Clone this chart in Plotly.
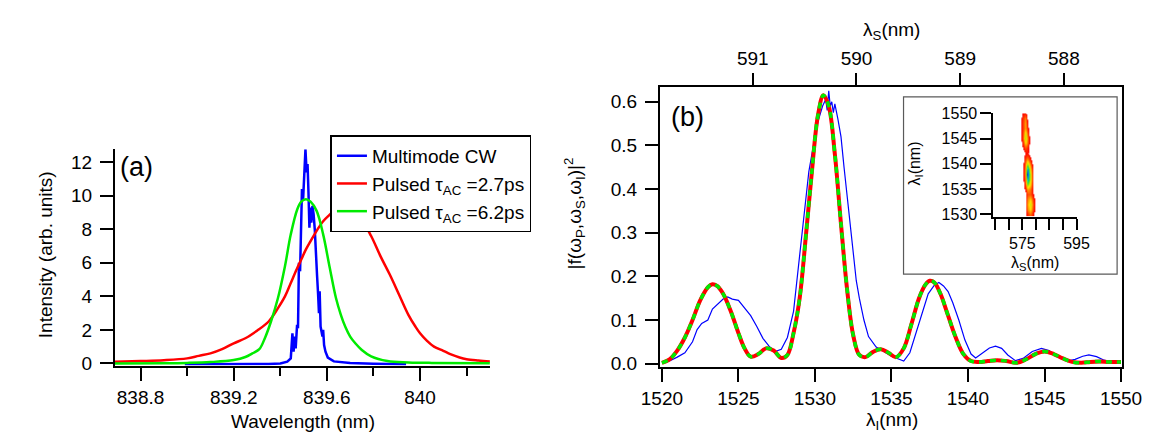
import plotly.graph_objects as go

W, H = 1161, 433
FONT = "Liberation Sans, Arial, Helvetica, sans-serif"

# ---------------- Panel (a) data ----------------
cw_wl = [838.99, 839.2, 839.35, 839.40, 839.43, 839.445, 839.452, 839.457, 839.462, 839.466,
         839.472, 839.476, 839.48, 839.485, 839.49, 839.493, 839.498, 839.503, 839.508, 839.513,
         839.517, 839.521, 839.525, 839.529, 839.533, 839.538, 839.543, 839.548, 839.553, 839.558,
         839.562, 839.566, 839.569, 839.573, 839.577, 839.581, 839.584, 839.588, 839.594, 839.604,
         839.63, 839.7, 839.8, 839.94]
cw_int = [-0.05, -0.05, -0.03, 0.0, 0.1, 0.3, 1.8, 0.7, 1.6, 0.9,
          2.3, 2.1, 6.0, 5.5, 7.8, 10.4, 9.8, 11.7, 12.77, 11.4,
          11.9, 10.2, 8.1, 9.3, 8.4, 9.4, 8.9, 8.0, 6.2, 5.2,
          4.2, 3.0, 4.3, 2.2, 1.9, 1.6, 2.0, 1.1, 0.7, 0.35,
          0.12, 0.02, -0.02, -0.05]

p27_wl = [838.69, 838.8, 838.9, 839.0, 839.05, 839.1, 839.15, 839.2, 839.25, 839.3,
          839.35, 839.39, 839.42, 839.445, 839.47, 839.49, 839.51, 839.53, 839.56, 839.585,
          839.61, 839.63, 839.65, 839.67, 839.69, 839.72, 839.75, 839.79, 839.83, 839.87,
          839.91, 839.95, 839.98, 840.0, 840.03, 840.06, 840.1, 840.13, 840.17, 840.2,
          840.25, 840.3]
p27_int = [0.10, 0.14, 0.19, 0.30, 0.45, 0.6, 0.85, 1.2, 1.5, 1.95,
           2.5, 3.3, 4.0, 4.8, 5.6, 6.2, 6.8, 7.3, 8.0, 8.5,
           8.85, 9.1, 9.2, 9.15, 9.05, 8.85, 8.55, 7.6, 6.4, 5.3,
           4.1, 2.9, 2.2, 1.8, 1.35, 1.0, 0.75, 0.55, 0.35, 0.25,
           0.17, 0.11]

p62_wl = [838.69, 838.9, 839.0, 839.1, 839.2, 839.25, 839.28, 839.31, 839.335, 839.36,
          839.39, 839.42, 839.445, 839.473, 839.49, 839.51, 839.53, 839.556, 839.584, 839.611,
          839.639, 839.66, 839.68, 839.70, 839.722, 839.75, 839.79, 839.86, 839.95, 840.05,
          840.3]
p62_int = [0.0, 0.01, 0.03, 0.08, 0.2, 0.38, 0.6, 0.85, 1.55, 2.5,
           3.9, 5.8, 7.7, 9.2, 9.65, 9.8, 9.65, 9.1, 7.7, 5.8,
           3.9, 2.9, 2.15, 1.6, 1.2, 0.8, 0.42, 0.14, 0.06, 0.03,
           0.01]

a_xticks = [838.8, 839.2, 839.6, 840]
a_xticktext = ["838.8", "839.2", "839.6", "840"]
a_xminor = [839.0, 839.4, 839.8, 840.2]
a_yticks = [0, 2, 4, 6, 8, 10, 12]

# ---------------- Panel (b) data ----------------
exp_wl = [1520.0, 1520.5, 1521.0, 1521.5, 1522.0, 1522.3, 1522.6, 1523.0, 1523.3, 1523.6,
          1524.0, 1524.3, 1524.6, 1525.0, 1525.4, 1525.8, 1526.2, 1526.6, 1527.0, 1527.4,
          1527.8, 1528.2, 1528.6, 1529.0, 1529.3, 1529.6, 1529.9, 1530.2, 1530.5, 1530.7,
          1530.8, 1530.9, 1531.0, 1531.1, 1531.2, 1531.3, 1531.5, 1531.7, 1531.9, 1532.1,
          1532.3, 1532.5, 1532.7, 1532.9, 1533.2, 1533.5, 1534.0, 1534.5, 1535.0, 1535.5,
          1535.8, 1536.2, 1536.6, 1537.0, 1537.4, 1537.8, 1538.1, 1538.4, 1538.7, 1539.0,
          1539.4, 1539.8, 1540.2, 1540.5, 1541.0, 1541.4, 1541.8, 1542.2, 1542.6, 1543.1,
          1543.6, 1544.2, 1544.8, 1545.3, 1545.9, 1546.5, 1547.0, 1547.5, 1547.9, 1548.4,
          1548.9, 1549.3, 1550.0]
exp_val = [0.003, 0.006, 0.015, 0.025, 0.05, 0.078, 0.092, 0.10, 0.125, 0.135,
           0.148, 0.153, 0.148, 0.145, 0.128, 0.11, 0.085, 0.058, 0.04, 0.028,
           0.033, 0.06, 0.12, 0.25, 0.34, 0.44, 0.50, 0.555, 0.59, 0.605,
           0.58, 0.625, 0.59, 0.60, 0.575, 0.595, 0.56, 0.52, 0.45, 0.385,
           0.31, 0.25, 0.19, 0.15, 0.10, 0.062, 0.038, 0.028, 0.017, 0.01,
           0.006, 0.025, 0.07, 0.12, 0.16, 0.18, 0.186, 0.178, 0.165, 0.14,
           0.10, 0.054, 0.022, 0.013, 0.025, 0.036, 0.04, 0.035, 0.02, 0.007,
           0.012, 0.028, 0.035, 0.03, 0.015, 0.006, 0.01, 0.017, 0.02, 0.016,
           0.008, 0.004, 0.006]

th_wl = [1520.0, 1520.5, 1521.0, 1521.5, 1522.0, 1522.5, 1523.0, 1523.3, 1523.6, 1524.0,
         1524.5, 1525.0, 1525.4, 1525.8, 1526.3, 1526.8, 1527.3, 1527.8, 1528.2, 1528.6,
         1529.0, 1529.4, 1529.8, 1530.2, 1530.55, 1530.9, 1531.3, 1531.7, 1532.1, 1532.5,
         1532.9, 1533.3, 1533.8, 1534.3, 1534.8, 1535.3, 1535.8, 1536.3, 1536.8, 1537.2,
         1537.5, 1537.8, 1538.2, 1538.7, 1539.2, 1539.7, 1540.2, 1540.7, 1541.3, 1541.9,
         1542.5, 1543.2, 1543.8, 1544.4, 1545.0, 1545.6, 1546.2, 1546.8, 1547.4, 1548.0,
         1548.6, 1549.2, 1550.0]
th_val = [0.002, 0.01, 0.03, 0.06, 0.10, 0.145, 0.175, 0.182, 0.178, 0.16,
          0.12, 0.07, 0.035, 0.016, 0.022, 0.035, 0.03, 0.013, 0.02, 0.07,
          0.15, 0.29, 0.44, 0.57, 0.615, 0.59, 0.48, 0.32, 0.17, 0.065,
          0.02, 0.015, 0.027, 0.033, 0.025, 0.015, 0.035, 0.09, 0.15, 0.18,
          0.19, 0.186, 0.16, 0.11, 0.06, 0.022, 0.006, 0.004, 0.006, 0.008,
          0.006, 0.002, 0.01, 0.022, 0.028, 0.022, 0.012, 0.004, 0.002, 0.004,
          0.005, 0.004, 0.004]

b_xticks = [1520, 1525, 1530, 1535, 1540, 1545, 1550]
b_yticks = [0.0, 0.1, 0.2, 0.3, 0.4, 0.5, 0.6]
b_yticktext = ["0.0", "0.1", "0.2", "0.3", "0.4", "0.5", "0.6"]
top_ticks = [591, 590, 589, 588]

# ---------------- Inset (joint spectral intensity) ----------------
jsa_ls = [574, 575, 576, 577, 578, 579, 580, 581]
jsa_li = [1530, 1531, 1532, 1533, 1534, 1535, 1536, 1537, 1538, 1539, 1540,
          1541, 1542, 1543, 1544, 1545, 1546, 1547, 1548, 1549, 1550]
jsa_z = [
    [0, 0, 0.05, 0.25, 0.35, 0.18, 0, 0],      # 1530
    [0, 0, 0.08, 0.38, 0.50, 0.25, 0.02, 0],   # 1531
    [0, 0, 0.10, 0.42, 0.58, 0.28, 0.03, 0],   # 1532
    [0, 0, 0.10, 0.38, 0.48, 0.24, 0.02, 0],   # 1533
    [0, 0, 0.10, 0.30, 0.32, 0.15, 0, 0],      # 1534
    [0, 0.02, 0.20, 0.42, 0.35, 0.12, 0, 0],   # 1535
    [0, 0.04, 0.30, 0.68, 0.48, 0.12, 0, 0],   # 1536
    [0, 0.05, 0.38, 0.88, 0.55, 0.14, 0, 0],   # 1537
    [0, 0.06, 0.42, 1.00, 0.55, 0.12, 0, 0],   # 1538
    [0, 0.06, 0.42, 0.90, 0.48, 0.10, 0, 0],   # 1539
    [0, 0.05, 0.38, 0.65, 0.35, 0.06, 0, 0],   # 1540
    [0, 0.04, 0.30, 0.40, 0.20, 0.02, 0, 0],   # 1541
    [0, 0.03, 0.16, 0.18, 0.08, 0, 0, 0],      # 1542
    [0, 0.12, 0.30, 0.22, 0.04, 0, 0, 0],      # 1543
    [0, 0.20, 0.48, 0.35, 0.06, 0, 0, 0],      # 1544
    [0, 0.25, 0.62, 0.38, 0.05, 0, 0, 0],      # 1545
    [0, 0.25, 0.55, 0.32, 0.04, 0, 0, 0],      # 1546
    [0, 0.24, 0.42, 0.22, 0.02, 0, 0, 0],      # 1547
    [0, 0.25, 0.42, 0.18, 0, 0, 0, 0],         # 1548
    [0, 0.24, 0.38, 0.14, 0, 0, 0, 0],         # 1549
    [0, 0.15, 0.22, 0.06, 0, 0, 0, 0],         # 1550
]
inset_xticks = [565, 570, 575, 580, 585, 590, 595]
inset_xticktext = ["", "", "575", "", "", "", "595"]
inset_yticks = [1530, 1535, 1540, 1545, 1550]

# ---------------- helpers (layout positions, pixels -> paper) ----------------
def px(p):
    return p / W

def py(p):
    return 1 - p / H

BLUE = "rgb(0,0,255)"
RED = "rgb(255,0,0)"
GREEN = "rgb(0,235,0)"

fig = go.Figure()

# Panel (a)
fig.add_trace(go.Scatter(x=cw_wl, y=cw_int, mode="lines", name="Multimode CW",
                         line=dict(color=BLUE, width=2.5), xaxis="x", yaxis="y"))
fig.add_trace(go.Scatter(x=p27_wl, y=p27_int, mode="lines", line_shape="spline",
                         name="Pulsed τ<sub>AC</sub> =2.7ps",
                         line=dict(color=RED, width=2.5), xaxis="x", yaxis="y"))
fig.add_trace(go.Scatter(x=p62_wl, y=p62_int, mode="lines", line_shape="spline",
                         name="Pulsed τ<sub>AC</sub> =6.2ps",
                         line=dict(color=GREEN, width=2.5), xaxis="x", yaxis="y"))

# Panel (b)
fig.add_trace(go.Scatter(x=exp_wl, y=exp_val, mode="lines", showlegend=False,
                         line=dict(color=BLUE, width=1.2), xaxis="x2", yaxis="y2"))
fig.add_trace(go.Scatter(x=th_wl, y=th_val, mode="lines", line_shape="spline", showlegend=False,
                         line=dict(color=RED, width=4), xaxis="x2", yaxis="y2"))
fig.add_trace(go.Scatter(x=th_wl, y=th_val, mode="lines", line_shape="spline", showlegend=False,
                         line=dict(color=GREEN, width=3.5, dash="6px,5px"), xaxis="x2", yaxis="y2"))
# invisible trace to anchor top axis
fig.add_trace(go.Scatter(x=top_ticks, y=[None] * len(top_ticks), mode="markers", showlegend=False,
                         hoverinfo="skip", xaxis="x3", yaxis="y2"))

# Inset
fig.add_trace(go.Heatmap(x=jsa_ls, y=jsa_li, z=jsa_z, zmin=0, zmax=1, zsmooth="best",
                         showscale=False, xaxis="x4", yaxis="y4",
                         colorscale=[[0, "rgba(255,255,255,0)"], [0.14, "rgba(255,255,255,0)"],
                                     [0.15, "rgb(255,0,0)"], [0.28, "rgb(255,60,0)"],
                                     [0.40, "rgb(255,150,0)"], [0.52, "rgb(255,235,0)"],
                                     [0.63, "rgb(160,230,0)"], [0.74, "rgb(0,220,80)"],
                                     [0.86, "rgb(0,200,235)"], [1, "rgb(0,0,255)"]]))

tickfont = dict(family=FONT, size=19, color="black")
axcommon = dict(showgrid=False, zeroline=False, showline=True, linecolor="black", linewidth=2,
                ticks="outside", tickcolor="black", tickwidth=2, tickfont=tickfont)

fig.update_layout(
    width=W, height=H, margin=dict(l=0, r=0, t=0, b=0),
    paper_bgcolor="white", plot_bgcolor="white",
    font=dict(family=FONT, size=19, color="black"),
    showlegend=True,
    legend=dict(x=px(314), y=py(124), xanchor="left", yanchor="top",
                bordercolor="black", borderwidth=1.5, bgcolor="white",
                font=dict(family=FONT, size=19), itemwidth=30,
                tracegroupgap=0, traceorder="normal"),
    xaxis=dict(domain=[px(91), px(479)], range=[838.69, 840.30], anchor="y",
               tickvals=a_xticks, ticktext=a_xticktext, ticklen=13, ticklabelstandoff=1,
               minor=dict(tickvals=a_xminor, ticks="outside", ticklen=8, tickwidth=2, tickcolor="black"),
               **axcommon),
    yaxis=dict(domain=[py(363), py(138.3)], range=[-0.13, 12.78], anchor="x",
               tickvals=a_yticks, ticklen=13, ticklabelstandoff=4, **axcommon),
    xaxis2=dict(domain=[px(655), px(1133)], range=[1519.874, 1550.06], anchor="y2",
                tickvals=b_xticks, ticklen=13, ticklabelstandoff=1, mirror=True, **axcommon),
    yaxis2=dict(domain=[py(364), py(74)], range=[-0.0066, 0.6331], anchor="x2",
                tickvals=b_yticks, ticktext=b_yticktext, ticklen=13, ticklabelstandoff=4,
                mirror=True, **axcommon),
    xaxis3=dict(overlaying="x2", side="top", anchor="y2", range=[591.895, 587.44],
                tickvals=top_ticks, ticklen=13, ticklabelstandoff=1, showgrid=False, zeroline=False,
                showline=False, ticks="outside", tickcolor="black", tickwidth=2, tickfont=tickfont),
    xaxis4=dict(domain=[px(1000), px(1086)], range=[564.29, 595], anchor="y4",
                tickvals=inset_xticks, ticktext=inset_xticktext, ticklen=11,
                showgrid=False, zeroline=False, showline=True, linecolor="black", linewidth=2,
                ticks="outside", tickcolor="black", tickwidth=2,
                tickfont=dict(family=FONT, size=16, color="black")),
    yaxis4=dict(domain=[py(208.3), py(101)], range=[1529.56, 1550], anchor="x4",
                tickvals=inset_yticks, ticklen=11,
                showgrid=False, zeroline=False, showline=True, linecolor="black", linewidth=2,
                ticks="outside", tickcolor="black", tickwidth=2,
                tickfont=dict(family=FONT, size=16, color="black")),
    shapes=[dict(type="rect", xref="paper", yref="paper", x0=px(907), x1=px(1128),
                 y0=py(268), y1=py(84), line=dict(color="rgb(90,90,90)", width=1.2))],
)

ann = [
    dict(text="(a)", x=px(113), y=py(157), font=dict(size=27)),
    dict(text="(b)", x=px(683), y=py(105), font=dict(size=27)),
    dict(text="Intensity (arb. units)", x=px(19), y=py(248), textangle=-90),
    dict(text="Wavelength (nm)", x=px(286), y=py(421)),
    dict(text="|f(ω<sub>P</sub>,ω<sub>S</sub>,ω<sub>I</sub>)|<sup>2</sup>", x=px(566), y=py(205), textangle=-90),
    dict(text="λ<sub>I</sub>(nm)", x=px(895), y=py(421)),
    dict(text="λ<sub>S</sub>(nm)", x=px(895), y=py(16)),
    dict(text="λ<sub>I</sub>(nm)", x=px(919), y=py(153), textangle=-90, font=dict(size=16)),
    dict(text="λ<sub>S</sub>(nm)", x=px(1043), y=py(257), font=dict(size=16)),
]
for a in ann:
    a.setdefault("font", dict(size=19))
    a["font"] = dict(family=FONT, color="black", **a["font"])
    fig.add_annotation(xref="paper", yref="paper", showarrow=False, xanchor="center", yanchor="middle", **a)

fig.write_html("out.html")
